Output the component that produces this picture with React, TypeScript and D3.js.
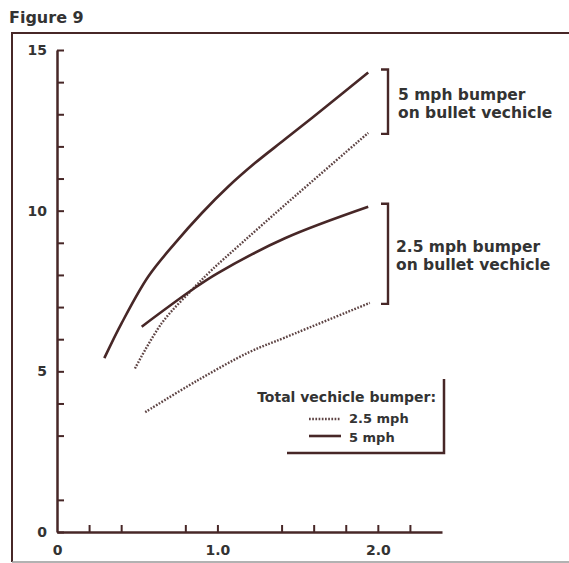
import { useEffect, useRef } from 'react';
import * as d3 from 'd3';

// Bullet vehicle with 5 mph bumper
const bullet5Solid: [number, number][] = [
	[0.295, 5.41], [0.403, 6.5], [0.569, 7.95], [0.736, 8.99], [0.902, 9.92], [1.068, 10.75],
	[1.234, 11.48], [1.421, 12.22], [1.68, 13.25], [1.94, 14.3],
];
const bullet5Dotted: [number, number][] = [
	[0.486, 5.09], [0.653, 6.5], [0.84, 7.53], [0.964, 8.15], [1.151, 8.99], [1.421, 10.18], [1.94, 12.42],
];
// Bullet vehicle with 2.5 mph bumper
const bullet25Solid: [number, number][] = [
	[0.528, 6.39], [0.84, 7.53], [1.0, 8.05], [1.421, 9.14], [1.94, 10.12],
];
const bullet25Dotted: [number, number][] = [
	[0.55, 3.73], [0.87, 4.7], [1.2, 5.6], [1.42, 6.05], [1.95, 7.13],
];

const yTicks = [1, 3, 4, 5, 6, 7, 8, 9, 10, 11, 12, 13, 14, 15];
const yLabels = [0, 5, 10, 15];
const xTicks = [0, 0.2, 0.4, 0.8, 1.0, 1.4, 1.6, 1.8, 2.0, 2.2];
const xLabels = ['0', '1.0', '2.0'];
const xLabelValues = [0, 1, 2];

const upperNote = ['5 mph bumper', 'on bullet vechicle'];
const lowerNote = ['2.5 mph bumper', 'on bullet vechicle'];
const legendTitle = 'Total vechicle bumper:';
const legendItems = ['2.5 mph', '5 mph'];

const W = 569;
const H = 563;
const INK = '#472727';
const DOT = '#5e4444';
const FONT = '"DejaVu Sans", sans-serif';

export default function App() {
	const svgRef = useRef<SVGSVGElement>(null);

	useEffect(() => {
		if (!svgRef.current) return;
		const svg = d3.select(svgRef.current);
		svg.selectAll('*').remove();

		const x = d3.scaleLinear().domain([0, 2.4]).range([57, 442]);
		const y = d3.scaleLinear().domain([0, 15]).range([532, 50]);

		// frame
		svg
			.append('path')
			.attr('d', 'M12,562V33H575')
			.attr('fill', 'none')
			.attr('stroke', INK)
			.attr('stroke-width', 2);
		svg
			.append('line')
			.attr('x1', 12)
			.attr('x2', 575)
			.attr('y1', 562)
			.attr('y2', 562)
			.attr('stroke', '#999')
			.attr('stroke-width', 1.5);

		svg
			.append('text')
			.attr('x', 9)
			.attr('y', 23)
			.attr('font-family', FONT)
			.attr('font-weight', 'bold')
			.attr('font-size', 16)
			.attr('fill', '#333')
			.text('Figure 9');

		// y axis
		const yAxis = svg
			.append('g')
			.attr('transform', 'translate(57,0)')
			.call(
				d3
					.axisLeft(y)
					.tickValues([0, ...yTicks])
					.tickSizeInner(-7)
					.tickSizeOuter(0)
					.tickPadding(10)
					.tickFormat((d) => (yLabels.includes(d as number) ? String(d) : ''))
			);

		// x axis
		const xAxis = svg
			.append('g')
			.attr('transform', 'translate(0,532)')
			.call(
				d3
					.axisBottom(x)
					.tickValues(xTicks)
					.tickSizeInner(-7)
					.tickSizeOuter(0)
					.tickPadding(13)
					.tickFormat((d) => {
						const i = xLabelValues.indexOf(d as number);
						return i >= 0 ? xLabels[i] : '';
					})
			);

		[yAxis, xAxis].forEach((g) => {
			g.select('.domain').attr('stroke', INK).attr('stroke-width', 2.5);
			g.selectAll('.tick line').attr('stroke', INK).attr('stroke-width', 2);
			g.selectAll('.tick text')
				.attr('font-family', FONT)
				.attr('font-weight', 'bold')
				.attr('font-size', 14)
				.attr('fill', '#333');
		});
		xAxis.selectAll('.tick').filter((d) => d === 0).select('line').remove();

		const line = d3
			.line<[number, number]>()
			.x((d) => x(d[0]))
			.y((d) => y(d[1]))
			.curve(d3.curveCatmullRom.alpha(0.5));

		const drawSeries = (data: [number, number][], dotted: boolean) => {
			svg
				.append('path')
				.datum(data)
				.attr('fill', 'none')
				.attr('stroke', dotted ? DOT : INK)
				.attr('stroke-width', dotted ? 2.4 : 2.6)
				.attr('stroke-dasharray', dotted ? '1.7 1.5' : null)
				.attr('d', line);
		};
		drawSeries(bullet5Solid, false);
		drawSeries(bullet5Dotted, true);
		drawSeries(bullet25Solid, false);
		drawSeries(bullet25Dotted, true);

		// brackets grouping the line ends
		const bracket = (top: number, bottom: number) => {
			const bx = 388;
			svg
				.append('path')
				.attr('d', `M${bx - 7},${y(top) - 3}H${bx}V${y(bottom) + 1}H${bx - 7}`)
				.attr('fill', 'none')
				.attr('stroke', INK)
				.attr('stroke-width', 2.4);
		};
		bracket(bullet5Solid[bullet5Solid.length - 1][1], bullet5Dotted[bullet5Dotted.length - 1][1]);
		bracket(bullet25Solid[bullet25Solid.length - 1][1], bullet25Dotted[bullet25Dotted.length - 1][1]);

		const note = (lines: string[], tx: number, ty: number) => {
			const t = svg
				.append('text')
				.attr('font-family', FONT)
				.attr('font-weight', 'bold')
				.attr('font-size', 15.5)
				.attr('fill', '#333');
			lines.forEach((s, i) => {
				t.append('tspan').attr('x', tx).attr('y', ty + i * 18).text(s);
			});
		};
		note(upperNote, 398, 100);
		note(lowerNote, 396, 252);

		// legend
		svg
			.append('path')
			.attr('d', 'M287,453H444V379')
			.attr('fill', 'none')
			.attr('stroke', INK)
			.attr('stroke-width', 2.5);
		svg
			.append('text')
			.attr('x', 436)
			.attr('y', 402)
			.attr('text-anchor', 'end')
			.attr('font-family', FONT)
			.attr('font-weight', 'bold')
			.attr('font-size', 14)
			.attr('fill', '#333')
			.text(legendTitle);
		legendItems.forEach((label, i) => {
			const ly = 419 + i * 17;
			svg
				.append('line')
				.attr('x1', 309)
				.attr('x2', 341)
				.attr('y1', ly)
				.attr('y2', ly)
				.attr('stroke', i === 0 ? DOT : INK)
				.attr('stroke-width', i === 0 ? 2.4 : 2.6)
				.attr('stroke-dasharray', i === 0 ? '1.7 1.5' : null);
			svg
				.append('text')
				.attr('x', 349)
				.attr('y', 423 + i * 19)
				.attr('font-family', FONT)
				.attr('font-weight', 'bold')
				.attr('font-size', 13)
				.attr('fill', '#333')
				.text(label);
		});
	}, []);

	return (
		<svg
			ref={svgRef}
			width={W}
			height={H}
			style={{ position: 'absolute', left: 0, top: 0, background: '#fff' }}
		></svg>
	);
}
